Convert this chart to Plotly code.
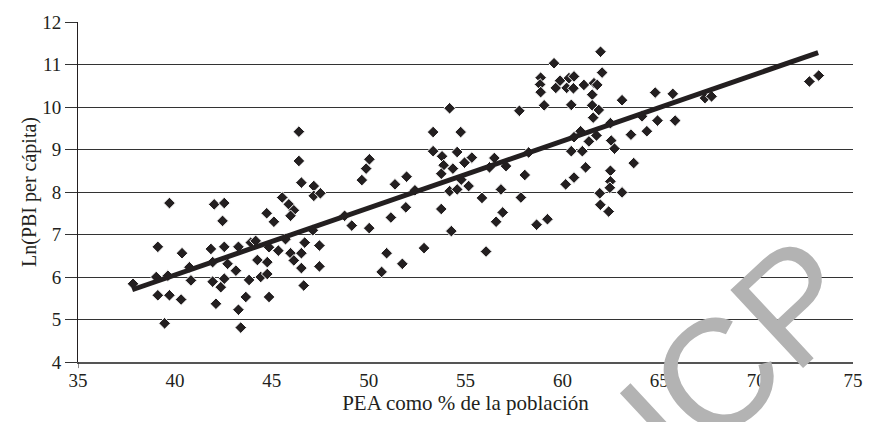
import plotly.graph_objects as go

# PEA (% of population) vs Ln(GDP per capita), one diamond per observation
pea = [
    37.84, 39.12, 39.72, 40.37, 39.04, 39.64, 39.12, 39.72, 40.32, 39.47,
    40.75, 40.83, 41.86, 42.55, 43.28, 43.92, 44.17, 44.86, 45.34, 41.95,
    42.72, 43.15, 44.26, 44.77, 41.95, 42.55, 42.37, 43.83, 44.43, 44.77,
    42.12, 43.66, 44.86, 43.28, 43.40, 42.03, 42.55, 42.46, 44.74, 45.11,
    45.54, 45.88, 46.14, 45.97, 46.53, 46.40, 46.40, 45.71, 45.97, 46.14,
    46.53, 46.65, 46.70, 46.53, 47.17, 47.17, 47.51, 47.12, 47.46, 47.46,
    48.76, 49.13, 50.03, 50.04, 49.87, 49.65, 51.36, 51.96, 51.15, 51.92,
    50.93, 50.67, 51.74, 52.86, 52.39, 53.33, 54.18, 54.75, 53.33, 53.79,
    54.57, 53.87, 54.35, 53.75, 54.95, 55.33, 54.18, 54.57, 55.16, 54.78,
    53.75, 54.27, 55.85, 56.49, 56.24, 57.09, 56.83, 57.86, 58.06, 56.92,
    56.58, 58.67, 59.23, 56.06, 57.78, 58.26, 59.57, 58.88, 58.85, 58.88,
    59.06, 59.66, 59.88, 60.34, 60.60, 60.22, 60.57, 61.11, 61.63, 61.54,
    61.80, 60.46, 61.97, 62.05, 61.54, 61.88, 61.59, 63.08, 60.94, 60.60,
    61.37, 61.76, 62.48, 62.52, 62.69, 63.54, 64.11, 60.46, 61.03, 61.20,
    63.68, 60.60, 60.17, 62.48, 62.48, 62.45, 63.08, 61.93, 61.96, 62.39,
    64.79, 65.70, 64.91, 65.82, 64.36, 67.36, 67.70, 72.75, 73.23,
]
ln_pbi = [
    5.84, 6.71, 7.74, 6.56, 6.00, 6.03, 5.57, 5.57, 5.47, 4.91,
    6.23, 5.92, 6.66, 6.71, 6.71, 6.81, 6.85, 6.70, 6.62, 6.35,
    6.31, 6.15, 6.40, 6.35, 5.89, 5.96, 5.76, 5.93, 6.00, 6.07,
    5.37, 5.53, 5.53, 5.23, 4.81, 7.71, 7.74, 7.32, 7.50, 7.30,
    7.87, 7.71, 7.57, 7.44, 8.22, 9.42, 8.73, 6.89, 6.56, 6.39,
    6.21, 5.80, 6.81, 6.56, 8.14, 7.91, 7.97, 7.10, 6.74, 6.25,
    7.44, 7.21, 7.15, 8.77, 8.55, 8.28, 8.18, 8.36, 7.40, 7.64,
    6.56, 6.12, 6.31, 6.68, 8.04, 9.41, 9.97, 9.41, 8.96, 8.84,
    8.94, 8.63, 8.55, 8.43, 8.69, 8.81, 8.02, 8.06, 8.14, 8.29,
    7.60, 7.08, 7.86, 8.80, 8.58, 8.61, 8.06, 7.87, 8.40, 7.52,
    7.30, 7.23, 7.36, 6.60, 9.91, 8.93, 11.03, 10.69, 10.53, 10.35,
    10.04, 10.45, 10.62, 10.68, 10.72, 10.45, 10.44, 10.52, 10.56, 10.29,
    10.52, 10.05, 11.30, 10.81, 10.04, 9.93, 9.75, 10.16, 9.43, 9.29,
    9.19, 9.33, 9.62, 9.21, 9.02, 9.35, 9.78, 8.96, 8.96, 8.58,
    8.68, 8.34, 8.18, 8.50, 8.25, 8.10, 7.99, 7.97, 7.70, 7.54,
    10.34, 10.31, 9.68, 9.68, 9.43, 10.21, 10.25, 10.60, 10.74,
]

# Linear trend endpoints
trend_x = [37.8, 73.2]
trend_y = [5.70, 11.28]

x_ticks = [35, 40, 45, 50, 55, 60, 65, 70, 75]
y_ticks = [4, 5, 6, 7, 8, 9, 10, 11, 12]

INK = "#231f20"
SERIF = "Liberation Serif"

fig = go.Figure()
fig.add_trace(go.Scatter(
    x=pea, y=ln_pbi, mode="markers",
    marker=dict(symbol="diamond", size=9, color=INK,
                line=dict(color="#ffffff", width=1)),
    showlegend=False, hoverinfo="x+y",
))
fig.add_trace(go.Scatter(
    x=trend_x, y=trend_y, mode="lines",
    line=dict(color=INK, width=5),
    showlegend=False, hoverinfo="skip",
))

fig.update_layout(
    width=875, height=422,
    margin=dict(l=78, r=18, t=20, b=60),
    paper_bgcolor="white", plot_bgcolor="white",
    font=dict(family=SERIF, size=19, color=INK),
    xaxis=dict(
        range=[35, 75], tickvals=x_ticks, ticks="", showgrid=False,
        zeroline=False, showline=True, linecolor="#555555", linewidth=2,
        tickfont=dict(family=SERIF, size=19, color=INK),
        title=dict(text="PEA como % de la población",
                   font=dict(family=SERIF, size=21, color=INK), standoff=5),
    ),
    yaxis=dict(
        range=[4, 12], tickvals=y_ticks, ticks="outside", ticklen=12,
        tickcolor="#333333", tickwidth=1,
        showgrid=True, gridcolor="#333333", gridwidth=1,
        zeroline=False, showline=True, linecolor=INK, linewidth=1,
        tickfont=dict(family=SERIF, size=19, color=INK),
        title=dict(text="Ln(PBI per cápita)",
                   font=dict(family=SERIF, size=20, color=INK), standoff=0),
    ),
    shapes=[
        # y axis line continues a little below the x axis
        dict(type="line", xref="x", yref="paper", x0=35, x1=35, y0=0, y1=-0.018,
             line=dict(color=INK, width=1)),
    ],
    annotations=[
        dict(text="PUCP", xref="paper", yref="paper", x=0.7715, y=-0.152,
             xanchor="center", yanchor="middle", showarrow=False,
             textangle=-43,
             font=dict(family="Liberation Sans", size=155, color="#b3b3b3")),
    ],
)

fig.write_html("out.html")
